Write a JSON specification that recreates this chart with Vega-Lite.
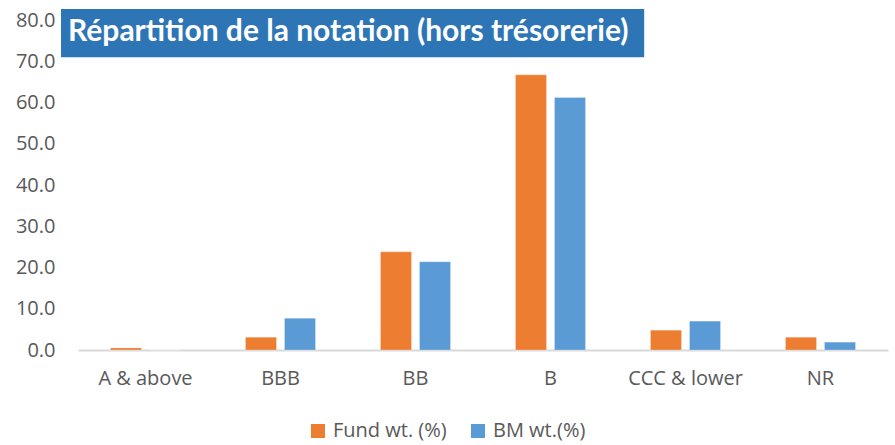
{
  "$schema": "https://vega.github.io/schema/vega-lite/v6.json",
  "width": 810,
  "height": 330,
  "autosize": {"type": "none"},
  "padding": {"left": 78, "top": 20, "right": 7, "bottom": 95},
  "background": "white",
  "config": {
    "view": {"stroke": null},
    "font": "Open Sans",
    "axis": {"labelFont": "Open Sans", "labelColor": "#595959", "labelFontSize": 20, "grid": false, "ticks": false, "title": null}
  },
  "datasets": {
    "ratings": [
      {"rating": "A & above", "series": "Fund wt. (%)", "value": 0.5},
      {"rating": "A & above", "series": "BM wt.(%)", "value": 0.0},
      {"rating": "BBB", "series": "Fund wt. (%)", "value": 3.1},
      {"rating": "BBB", "series": "BM wt.(%)", "value": 7.7},
      {"rating": "BB", "series": "Fund wt. (%)", "value": 23.8},
      {"rating": "BB", "series": "BM wt.(%)", "value": 21.4},
      {"rating": "B", "series": "Fund wt. (%)", "value": 66.7},
      {"rating": "B", "series": "BM wt.(%)", "value": 61.2},
      {"rating": "CCC & lower", "series": "Fund wt. (%)", "value": 4.8},
      {"rating": "CCC & lower", "series": "BM wt.(%)", "value": 7.0},
      {"rating": "NR", "series": "Fund wt. (%)", "value": 3.1},
      {"rating": "NR", "series": "BM wt.(%)", "value": 1.9}
    ],
    "titlebox": [
      {"label": "Répartition de la notation (hors trésorerie)"}
    ]
  },
  "layer": [
    {
      "data": {"name": "ratings"},
      "mark": {"type": "bar", "stroke": "white", "strokeOpacity": 0.5, "strokeWidth": 0.5},
      "encoding": {
        "x": {
          "field": "rating", "type": "nominal",
          "sort": ["A & above", "BBB", "BB", "B", "CCC & lower", "NR"],
          "scale": {"paddingInner": 0, "paddingOuter": 0},
          "axis": {"labelAngle": 0, "labelPadding": 18, "domain": true, "domainColor": "#D9D9D9", "domainWidth": 2}
        },
        "xOffset": {
          "field": "series", "type": "nominal",
          "sort": ["Fund wt. (%)", "BM wt.(%)"],
          "scale": {"paddingInner": 0.205, "paddingOuter": 0.833}
        },
        "y": {
          "field": "value", "type": "quantitative",
          "scale": {"domain": [0, 80], "nice": false},
          "axis": {"values": [0, 10, 20, 30, 40, 50, 60, 70, 80], "format": ".1f", "labelPadding": 23, "domain": false}
        },
        "color": {
          "field": "series", "type": "nominal",
          "sort": ["Fund wt. (%)", "BM wt.(%)"],
          "scale": {"domain": ["Fund wt. (%)", "BM wt.(%)"], "range": ["#ED7D31", "#5B9BD5"]},
          "legend": {
            "orient": "none", "direction": "horizontal", "title": null,
            "legendX": 230, "legendY": 401,
            "symbolType": "square", "symbolSize": 196, "symbolStrokeWidth": 0,
            "labelFont": "Open Sans", "labelFontSize": 20, "labelColor": "#595959",
            "columnPadding": 21, "labelOffset": 5
          }
        }
      }
    },
    {
      "data": {"name": "titlebox"},
      "mark": {"type": "rect", "color": "#2E75B6", "clip": false},
      "encoding": {
        "x": {"datum": -0.021, "type": "quantitative", "scale": {"domain": [0, 1]}, "axis": null},
        "x2": {"datum": 0.699},
        "y": {"datum": 71.0, "type": "quantitative"},
        "y2": {"datum": 82.67}
      }
    },
    {
      "data": {"name": "titlebox"},
      "mark": {"type": "text", "color": "white", "font": "Lato", "fontWeight": "bold", "fontSize": 30, "align": "left", "baseline": "middle", "clip": false},
      "encoding": {
        "text": {"field": "label"},
        "x": {"datum": -0.0123, "type": "quantitative", "scale": {"domain": [0, 1]}, "axis": null},
        "y": {"datum": 77.0, "type": "quantitative"}
      }
    }
  ],
  "resolve": {"scale": {"x": "independent"}}
}
